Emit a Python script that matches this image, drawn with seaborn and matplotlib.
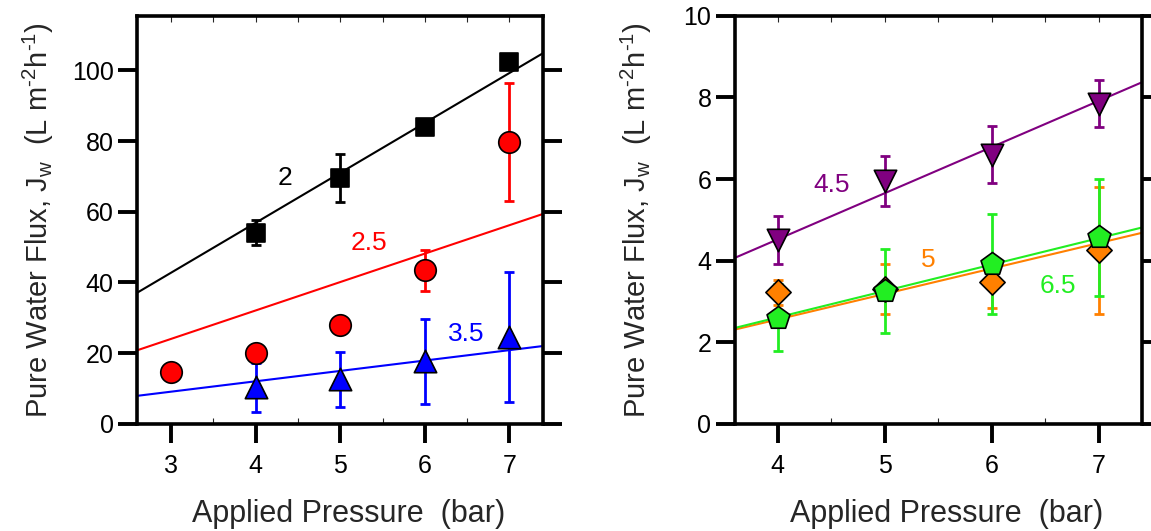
import matplotlib
matplotlib.use("Agg")
import matplotlib.pyplot as plt
import seaborn as sns
import pandas as pd
from matplotlib.ticker import MultipleLocator

# ---- data ----
# left panel
p_2 = [4, 5, 6, 7]
jw_2 = [54.1, 69.5, 84.1, 102.5]
err_2 = [3.5, 6.8, 2.2, 1.6]

p_25 = [3, 4, 5, 6, 7]
jw_25 = [14.6, 20.0, 27.8, 43.5, 79.8]
err_25 = [0, 0, 0, 5.8, 16.7]

p_35 = [4, 5, 6, 7]
jw_35 = [10.3, 12.6, 17.7, 24.5]
err_35 = [6.9, 7.8, 12.0, 18.4]

fit_x_left = [2.6, 7.4]
fit_2 = [37.1, 104.9]
fit_25 = [20.8, 59.4]
fit_35 = [7.9, 22.0]

# right panel
p_right = [4, 5, 6, 7]
jw_45 = [4.5, 5.95, 6.6, 7.85]
err_45 = [0.59, 0.62, 0.70, 0.58]
jw_5 = [3.22, 3.30, 3.47, 4.25]
err_5 = [0.31, 0.61, 0.63, 1.55]
jw_65 = [2.60, 3.25, 3.92, 4.57]
err_65 = [0.82, 1.03, 1.23, 1.44]

fit_x_right = [3.6, 7.4]
fit_45 = [4.07, 8.37]
fit_5 = [2.31, 4.68]
fit_65 = [2.35, 4.81]

sns.set_theme(style="ticks")
plt.rcParams['font.family'] = ['Liberation Sans', 'DejaVu Sans']
plt.rcParams['mathtext.fontset'] = 'custom'
plt.rcParams['mathtext.rm'] = 'Liberation Sans'
plt.rcParams['mathtext.it'] = 'Liberation Sans:italic'

BLACK, RED, BLUE = "#000000", "#ff0000", "#0000ff"
PURPLE, ORANGE, GREEN = "#800080", "#ff8000", "#22ee22"

fig = plt.figure(figsize=(11.51, 5.31), dpi=100)
ax1 = fig.add_axes([0.1193, 0.202, 0.3527, 0.768])
ax2 = fig.add_axes([0.6386, 0.202, 0.3533, 0.768])


def series(ax, x, y, err, color, marker, size, label_xy, label, fit_x, fit_y):
    sns.lineplot(x=fit_x, y=fit_y, ax=ax, color=color, lw=1.5, zorder=2)
    ax.errorbar(x, y, yerr=err, fmt="none", ecolor=color, elinewidth=2,
                capsize=3.5, capthick=2, zorder=3)
    df = pd.DataFrame({"x": x, "y": y})
    sns.scatterplot(data=df, x="x", y="y", ax=ax, color=color, marker=marker,
                    s=size, edgecolor="black", linewidth=1.2, zorder=4)
    ax.text(label_xy[0], label_xy[1], label, color=color, fontsize=19,
            ha="center", va="center")


series(ax1, p_2, jw_2, err_2, BLACK, "s", 185, (4.35, 69.5), "2", fit_x_left, fit_2)
series(ax1, p_25, jw_25, err_25, RED, "o", 240, (5.34, 51.2), "2.5", fit_x_left, fit_25)
series(ax1, p_35, jw_35, err_35, BLUE, "^", 260, (6.49, 25.5), "3.5", fit_x_left, fit_35)

series(ax2, p_right, jw_45, err_45, PURPLE, "v", 260, (4.5, 5.85), "4.5", fit_x_right, fit_45)
series(ax2, p_right, jw_5, err_5, ORANGE, "D", 165, (5.41, 4.02), "5", fit_x_right, fit_5)
series(ax2, p_right, jw_65, err_65, GREEN, "p", 300, (6.62, 3.38), "6.5", fit_x_right, fit_65)

ax1.set_xlim(2.6, 7.4)
ax1.set_ylim(0, 115.4)
ax1.set_yticks([0, 20, 40, 60, 80, 100])
ax1.set_xticks([3, 4, 5, 6, 7])
ax2.set_xlim(3.6, 7.4)
ax2.set_ylim(0, 10)
ax2.set_yticks([0, 2, 4, 6, 8, 10])
ax2.set_xticks([4, 5, 6, 7])

ylab = "Pure Water Flux, J$_\\mathrm{w}$  (L m$^{\\mathrm{\u20102}}$h$^{\\mathrm{\u20101}}$)"
for ax in (ax1, ax2):
    for sp in ax.spines.values():
        sp.set_visible(True)
        sp.set_linewidth(2.6)
        sp.set_color("black")
    ax.xaxis.set_minor_locator(MultipleLocator(0.5))
    ax.tick_params(axis="x", which="major", direction="out", length=14, width=2.8,
                   labelsize=18, pad=8, colors="black", top=False)
    ax.tick_params(axis="x", which="minor", direction="in", length=4, width=0.8,
                   top=False)
    ax.tick_params(axis="y", which="major", direction="out", length=14, width=2.8,
                   left=True, right=True, labelsize=18, pad=3, colors="black")
    top = ax.secondary_xaxis("top")
    top.xaxis.set_major_locator(MultipleLocator(0.5))
    top.tick_params(direction="in", length=4, width=0.8, labeltop=False)
    top.spines["top"].set_visible(False)
    ax.set_xlabel("Applied Pressure  (bar)", fontsize=22)
    ax.set_ylabel(ylab, fontsize=21)
    ax.yaxis.set_label_coords(-0.2, 0.5)
    ax.xaxis.set_label_coords(0.52, -0.184)
    ax.set_facecolor("white")

fig.savefig("out.png", dpi=100, facecolor="white")
